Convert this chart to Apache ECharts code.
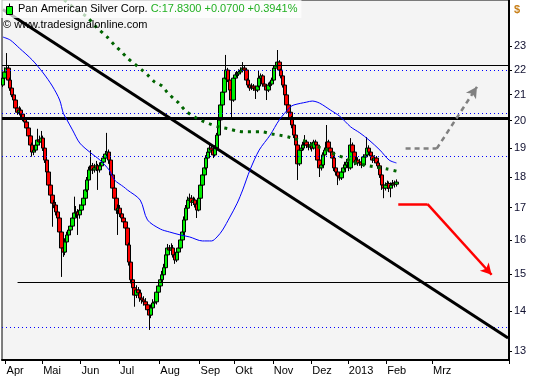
<!DOCTYPE html>
<html><head><meta charset="utf-8">
<script src="https://cdn.jsdelivr.net/npm/echarts@6/dist/echarts.min.js"></script>
<style>html,body{margin:0;padding:0;background:#fff}#c{width:533px;height:379px}</style>
</head><body><div id="c"></div><script>
const instrument = 'Pan American Silver Corp.';
const copyright = '\u00a9 www.tradesignalonline.com';
const currency = '$';
const slotCount = 277;
const monthTickIndex = [2,22,43,64,86,108,127,148,169,189,210,235];
const monthLabels = ['Apr','Mai','Jun','Jul','Aug','Sep','Okt','Nov','Dez','2013','Feb','Mrz'];
const yTickValues = [13,14,15,16,17,18,19,20,21,22,23];
const yMin = 12.78, yMax = 25.07;
// [open, close, low, high]
const ohlc = [
[21.38,21.66,21.30,21.80],[21.66,21.91,21.58,22.10],[21.91,22.07,21.80,22.70],[22.07,21.58,21.50,22.20],[21.58,21.26,21.15,21.68],
[21.26,20.99,20.90,21.40],[20.99,20.79,20.65,21.10],[20.79,20.48,20.40,20.90],[20.48,20.32,20.22,20.60],[20.32,20.40,20.20,20.55],
[20.40,20.25,20.12,20.50],[20.25,20.10,19.98,20.35],[20.10,19.95,19.85,20.22],[19.95,19.73,19.62,20.05],[19.73,19.44,19.35,19.80],
[19.44,19.11,19.00,19.52],[19.11,18.86,18.70,19.20],[18.86,18.93,18.75,19.05],[18.93,19.11,18.85,19.25],[19.11,19.29,19.02,19.70],
[19.29,19.22,19.10,19.45],[19.22,19.36,19.15,19.62],[19.36,19.00,18.90,19.45],[19.00,18.58,18.48,19.08],[18.58,18.17,18.05,18.65],
[18.17,17.73,17.62,18.25],[17.73,17.40,17.30,17.80],[17.40,17.14,16.40,17.50],[17.14,17.08,16.98,17.25],[17.08,16.86,16.75,17.18],
[16.86,16.67,16.55,16.95],[16.67,16.24,16.12,16.75],[16.24,15.76,14.93,16.30],[15.76,15.64,15.50,15.88],[15.64,15.94,15.55,16.05],
[15.94,16.15,15.85,16.25],[16.15,16.30,16.05,16.42],[16.30,16.42,16.22,16.55],[16.42,16.67,16.35,16.80],[16.67,16.83,16.55,17.35],
[16.83,16.86,16.70,17.05],[16.86,16.77,16.15,16.95],[16.77,16.92,16.65,17.10],[16.92,17.08,16.85,17.20],[17.08,17.30,17.00,17.42],
[17.30,17.57,17.22,17.68],[17.57,17.90,17.50,18.00],[17.90,18.24,17.82,18.35],[18.24,18.38,18.10,18.93],[18.38,18.24,18.10,18.48],
[18.24,18.31,18.15,18.45],[18.31,18.38,18.20,18.55],[18.38,18.24,17.57,18.45],[18.24,18.38,18.15,18.50],[18.38,18.51,18.28,18.62],
[18.51,18.65,18.42,18.78],[18.65,18.79,18.55,18.90],[18.79,18.86,18.70,19.55],[18.86,18.58,18.45,18.95],[18.58,18.07,17.95,18.65],
[18.07,17.63,17.52,18.15],[17.63,17.30,17.20,17.70],[17.30,16.92,16.80,17.38],[16.92,16.98,16.15,17.10],[16.98,16.80,16.70,17.08],
[16.80,16.67,16.55,16.90],[16.67,16.55,16.42,16.75],[16.55,16.36,16.20,16.62],[16.36,15.85,15.72,16.45],[15.85,15.35,15.25,15.92],
[15.35,14.85,14.75,15.42],[14.85,14.63,14.52,14.95],[14.63,14.43,14.12,14.72],[14.43,14.57,14.35,14.70],[14.57,14.49,14.38,14.65],
[14.49,14.35,14.25,14.58],[14.35,14.30,14.20,14.45],[14.30,14.25,14.15,14.40],[14.25,14.17,14.05,14.35],[14.17,14.04,13.95,14.25],
[14.04,13.90,13.52,14.10],[13.90,14.09,13.82,14.18],[14.09,14.22,14.00,14.32],[14.22,14.25,14.12,14.35],[14.25,14.51,14.18,14.60],
[14.51,14.68,14.42,14.78],[14.68,14.85,14.60,14.95],[14.85,14.99,14.78,15.10],[14.99,15.19,14.90,15.30],[15.19,15.56,15.10,15.65],
[15.56,15.76,15.48,15.88],[15.76,15.70,15.60,15.85],[15.70,15.76,15.62,15.90],[15.76,15.56,15.48,15.85],[15.56,15.41,15.30,15.65],
[15.41,15.64,15.35,15.72],[15.64,15.76,15.55,15.85],[15.76,16.00,15.70,16.10],[16.00,16.24,15.92,16.35],[16.24,16.61,16.15,16.72],
[16.61,16.98,16.55,17.08],[16.98,17.24,16.90,17.35],[17.24,17.30,17.15,17.45],[17.30,17.17,17.05,17.40],[17.17,17.24,17.08,17.35],
[17.24,17.11,17.00,17.32],[17.11,16.92,16.67,17.18],[16.92,17.30,16.88,17.40],[17.30,17.73,17.25,17.82],[17.73,18.07,17.68,18.15],
[18.07,18.31,18.00,18.42],[18.31,18.65,18.25,18.75],[18.65,18.86,18.58,18.98],[18.86,19.00,18.78,19.12],[19.00,18.93,18.82,19.08],
[18.93,18.76,18.65,19.00],[18.76,19.00,18.70,19.10],[19.00,19.47,18.95,19.55],[19.47,20.03,19.40,20.12],[20.03,20.60,19.95,20.70],
[20.60,21.10,20.52,21.20],[21.10,21.66,21.02,21.75],[21.66,21.99,21.60,22.62],[21.99,21.58,21.50,22.08],[21.58,21.18,21.08,21.65],
[21.18,20.79,20.03,21.25],[20.79,21.66,20.72,21.75],[21.66,21.79,21.58,21.90],[21.79,21.83,21.70,21.95],[21.83,21.91,21.75,22.02],
[21.91,21.99,21.82,22.10],[21.99,22.07,21.90,22.32],[22.07,21.99,21.88,22.18],[21.99,21.58,21.48,22.05],[21.58,21.38,21.28,21.65],
[21.38,21.26,21.15,21.45],[21.26,21.34,21.18,21.45],[21.34,21.26,21.15,21.42],[21.26,21.18,20.83,21.35],[21.18,21.34,21.10,21.45],
[21.34,21.66,21.28,21.99],[21.66,21.75,21.58,21.85],[21.75,21.42,21.32,21.82],[21.42,21.34,21.25,21.50],[21.34,21.18,20.79,21.42],
[21.18,21.38,21.10,21.48],[21.38,21.42,21.30,21.52],[21.42,21.58,21.35,21.68],[21.58,22.07,21.52,22.18],[22.07,22.16,21.98,22.30],
[22.16,22.32,22.08,22.83],[22.32,21.99,21.90,22.40],[21.99,21.75,21.65,22.05],[21.75,21.38,21.28,21.82],[21.38,20.99,20.88,21.45],
[20.99,20.60,20.50,21.05],[20.60,20.32,20.22,20.68],[20.32,20.10,19.98,20.40],[20.10,19.84,19.72,20.18],[19.84,19.47,19.36,19.92],
[19.47,19.11,19.00,19.55],[19.11,18.45,17.90,19.18],[18.45,18.93,18.38,19.02],[18.93,19.00,18.82,19.12],[19.00,19.11,18.90,19.22],
[19.11,19.22,19.02,19.47],[19.22,19.11,19.00,19.30],[19.11,19.04,18.92,19.20],[19.04,19.11,18.95,19.22],[19.11,19.00,18.88,19.20],
[19.00,19.22,18.95,19.30],[19.22,19.11,19.00,19.30],[19.11,18.58,18.48,19.18],[18.58,18.31,18.00,18.65],[18.31,18.41,18.22,18.52],
[18.41,18.76,18.35,18.85],[18.76,18.93,18.68,19.02],[18.93,19.22,18.85,19.84],[19.22,19.00,18.90,19.30],[19.00,18.86,18.75,19.08],
[18.86,18.65,18.55,18.95],[18.65,18.31,18.20,18.72],[18.31,18.17,18.05,18.40],[18.17,18.03,17.73,18.25],[18.03,17.97,17.88,18.12],
[17.97,18.17,17.90,18.28],[18.17,18.31,18.10,18.42],[18.31,18.41,18.22,18.52],[18.41,18.51,18.32,18.62],[18.51,18.31,18.20,18.60],
[18.31,19.11,18.25,19.36],[19.11,18.86,18.75,19.20],[18.86,18.51,18.40,18.95],[18.51,18.58,18.42,18.70],[18.58,18.48,18.38,18.68],
[18.48,18.51,18.38,18.62],[18.51,18.41,18.30,18.60],[18.41,18.69,18.35,18.78],[18.69,18.76,18.60,18.88],[18.76,19.00,18.68,19.40],
[19.00,18.86,18.75,19.10],[18.86,18.72,18.62,18.95],[18.72,18.58,18.48,18.80],[18.58,18.65,18.50,18.75],[18.65,18.48,18.38,18.72],
[18.48,18.38,18.28,18.55],[18.38,18.07,17.97,18.45],[18.07,17.73,17.57,18.15],[17.73,17.63,17.30,17.82],[17.63,17.73,17.55,17.82],
[17.73,17.78,17.60,17.88],[17.78,17.63,17.50,17.85],[17.63,17.73,17.33,17.82],[17.73,17.80,17.62,17.90],[17.80,17.76,17.65,17.88],
[17.76,17.83,17.68,17.92]
];
const ma1Index = [0,4,9,16,22,27,31,33,35,38,42,48,53,58,61,66,68,75,79,86,91,97,102,109,114,117,120,124,128,131,135,140,146,151,157,159,166,169,173,179,184,190,195,200,206,211,215];
const ma1Value = [23.39,23.26,22.91,22.41,21.87,21.34,20.79,20.28,20.03,19.66,19.18,18.83,18.58,18.24,17.90,17.67,17.57,17.24,16.61,16.33,16.24,16.15,16.09,15.97,15.97,16.09,16.30,16.70,17.14,17.57,18.24,18.93,19.47,20.03,20.52,20.60,20.71,20.75,20.67,20.40,20.17,19.77,19.55,19.29,18.93,18.58,18.48];
const ma2Index = [30,35,40,46,51,57,61,65,68,72,76,79,83,87,90,93,96,100,105,109,113,118,123,128,132,136,141,147,151,156,160,165,169,174,179,182,187,191,200,210,215];
const ma2Value = [25.31,24.97,24.62,24.28,23.83,23.39,23.04,22.74,22.49,22.24,21.99,21.79,21.50,21.34,21.07,20.87,20.68,20.36,20.13,19.99,19.88,19.77,19.70,19.62,19.59,19.59,19.59,19.51,19.47,19.40,19.33,19.25,19.11,19.00,18.86,18.76,18.65,18.51,18.38,18.27,18.20];
const resistanceThin = 22.30;
const resistanceThick = 20.12;
const supportLevel = 14.78, supportStart = 8.2;
const fibLevels = [21.90, 20.33, 18.71, 13.54];
const trendLine = [[0, 24.63], [276, 13.32]];
const bearArrow = [[216.4, 17.11], [231.7, 17.11], [266.7, 14.99]];
const bullArrow = [[219.7, 18.98], [236.7, 18.98], [259.1, 21.31]];

const FONT = 'Liberation Sans';
const L = Math.log;
const categories = Array.from({length: slotCount}, (_, i) => String(i));
const labelMap = {};
monthTickIndex.forEach((k, j) => labelMap[k] = monthLabels[j]);
const last = ohlc[ohlc.length - 1][1], prev = ohlc[ohlc.length - 2][1];
const chg = last - prev;
const quote = 'C:' + last.toFixed(4) + ' ' + (chg >= 0 ? '+' : '') + chg.toFixed(4) + ' ' + (chg >= 0 ? '+' : '') + (chg / prev * 100).toFixed(4) + '%';

const pt = p => ({coord: [p[0], L(p[1])]});
const hLine = (v, style) => ({yAxis: L(v), lineStyle: style});
const arrowSegs = (a, color, type) => [
  [Object.assign(pt(a[0]), {symbol: 'none'}), Object.assign(pt(a[1]), {symbol: 'none'}), ],
  [Object.assign(pt(a[1]), {symbol: 'none'}), Object.assign(pt(a[2]), {symbol: 'arrow', symbolSize: [9, 11]})]
].map(s => { s[0].lineStyle = {color, width: 2.5, type}; return s; });

const markData = [
  hLine(resistanceThin, {color: '#000', width: 1, type: 'solid'}),
  hLine(resistanceThick, {color: '#000', width: 3, type: 'solid'}),
  ...fibLevels.map(v => hLine(v, {color: '#0000ff', width: 1, type: [1, 3]})),
  [{coord: [supportStart, L(supportLevel)], lineStyle: {color: '#000', width: 1, type: 'solid'}}, {coord: [276, L(supportLevel)]}],
  [{coord: [trendLine[0][0], L(trendLine[0][1])], lineStyle: {color: '#000', width: 3, type: 'solid'}}, {coord: [trendLine[1][0], L(trendLine[1][1])]}],
  ...arrowSegs(bearArrow, '#ff0000', 'solid'),
  ...arrowSegs(bullArrow, '#808080', [5, 4])
];

const chart = echarts.init(document.getElementById('c'));
chart.setOption({
  animation: false,
  backgroundColor: '#ffffff',
  textStyle: {fontFamily: FONT},
  grid: {left: 2, right: 24, top: 0, bottom: 19, show: true, backgroundColor: '#f4f4f4', borderColor: '#000', borderWidth: 1, containLabel: false},
  legend: {
    left: 0, top: 0, padding: [3, 4, 3, 6], itemWidth: 7, itemHeight: 11, itemGap: 0, z: 10,
    selectedMode: false, backgroundColor: 'rgba(255,255,255,0.72)',
    data: [{name: instrument, icon: 'path://M3,0L3,3M0,3L6,3L6,11L0,11Z', itemStyle: {color: '#00ff00', borderColor: '#000', borderWidth: 1}}],
    formatter: n => '{n|' + n + '} {c|' + quote + '}',
    textStyle: {fontFamily: FONT, fontSize: 11, rich: {n: {color: '#000', fontSize: 11, fontFamily: FONT}, c: {color: '#22b022', fontSize: 11, fontFamily: FONT}}}
  },
  title: [
    {text: copyright, left: 3, top: 19, padding: 0, textStyle: {fontFamily: FONT, fontSize: 11, fontWeight: 'normal', color: '#000'}},
    {text: currency, left: 514, top: 4, padding: 0, textStyle: {fontFamily: FONT, fontSize: 11, fontWeight: 'bold', color: '#c8801a'}}
  ],
  xAxis: {
    type: 'category', data: categories, boundaryGap: true,
    axisLine: {lineStyle: {color: '#000', width: 2}},
    axisTick: {show: true, length: 4, interval: (i) => labelMap[i] !== undefined, lineStyle: {color: '#000'}},
    axisLabel: {interval: (i) => labelMap[i] !== undefined, formatter: (v) => labelMap[v] || '', align: 'left', margin: 5, fontSize: 11, color: '#000', fontFamily: FONT},
    splitLine: {show: false}
  },
  yAxis: {
    type: 'value', position: 'right', min: L(yMin), max: L(yMax), scale: true,
    axisLine: {show: true, lineStyle: {color: '#000', width: 2}},
    axisTick: {show: true, length: 3, customValues: yTickValues.map(L), lineStyle: {color: '#000'}},
    axisLabel: {customValues: yTickValues.map(L), formatter: v => String(Math.round(Math.exp(v))), margin: 5, fontSize: 11, color: '#101030', fontFamily: FONT},
    splitLine: {show: false}
  },
  series: [
    {
      name: instrument, type: 'candlestick', barWidth: 4, z: 2,
      data: ohlc.map(r => r.map(L)),
      itemStyle: {color: '#00ee00', color0: '#ff0000', borderColor: '#000', borderColor0: '#000', borderWidth: 1},
      markLine: {silent: true, symbol: ['none', 'none'], label: {show: false}, animation: false, z: 3, data: markData}
    },
    {
      name: 'ma1', type: 'line', showSymbol: false, symbol: 'none', smooth: 0.3, z: 3,
      data: ma1Index.map((x, k) => [x, L(ma1Value[k])]),
      lineStyle: {color: '#0000ff', width: 1}
    },
    {
      name: 'ma2', type: 'line', showSymbol: false, symbol: 'none', smooth: 0.3, z: 3,
      data: ma2Index.map((x, k) => [x, L(ma2Value[k])]),
      lineStyle: {color: '#006400', width: 3, type: [3, 5], cap: 'butt'}
    }
  ]
});
</script></body></html>
